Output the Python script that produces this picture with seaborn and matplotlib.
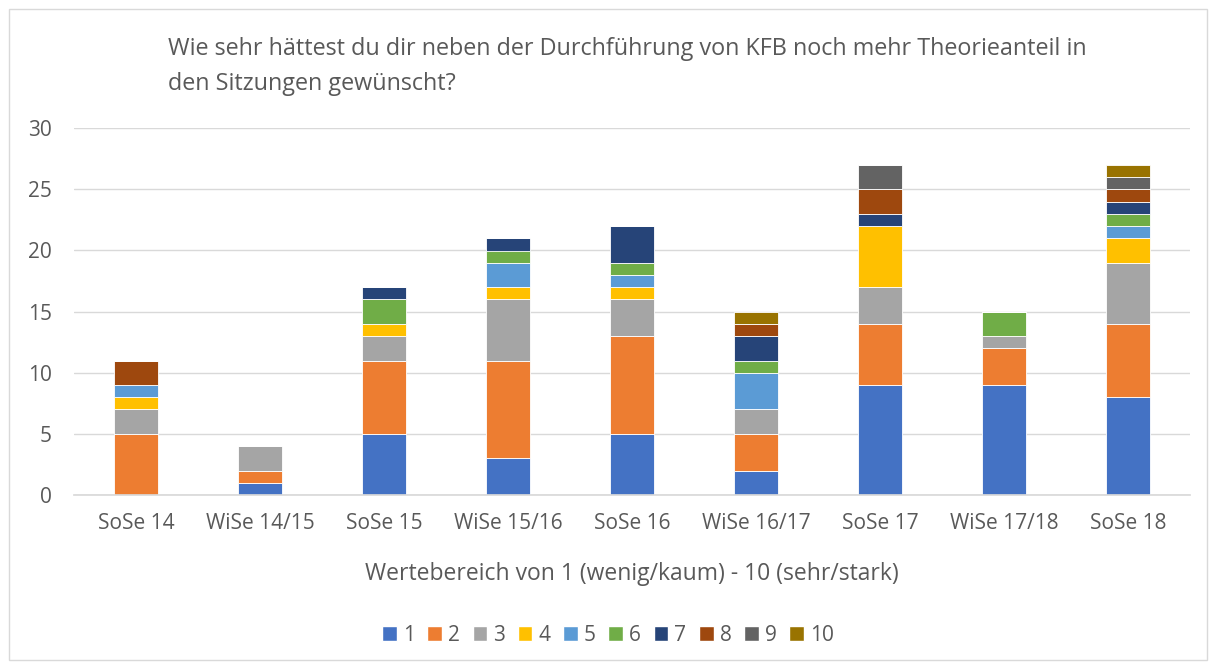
import pandas as pd
import matplotlib.pyplot as plt
import seaborn as sns
from matplotlib.patches import Rectangle, Patch

semesters = ["SoSe 14", "WiSe 14/15", "SoSe 15", "WiSe 15/16", "SoSe 16",
             "WiSe 16/17", "SoSe 17", "WiSe 17/18", "SoSe 18"]
ratings = ["1", "2", "3", "4", "5", "6", "7", "8", "9", "10"]

r1 = [0, 1, 5, 3, 5, 2, 9, 9, 8]
r2 = [5, 1, 6, 8, 8, 3, 5, 3, 6]
r3 = [2, 2, 2, 5, 3, 2, 3, 1, 5]
r4 = [1, 0, 1, 1, 1, 0, 5, 0, 2]
r5 = [1, 0, 0, 2, 1, 3, 0, 0, 1]
r6 = [0, 0, 2, 1, 1, 1, 0, 2, 1]
r7 = [0, 0, 1, 1, 3, 2, 1, 0, 1]
r8 = [2, 0, 0, 0, 0, 1, 2, 0, 1]
r9 = [0, 0, 0, 0, 0, 0, 2, 0, 1]
r10 = [0, 0, 0, 0, 0, 1, 0, 0, 1]
series = [r1, r2, r3, r4, r5, r6, r7, r8, r9, r10]

colors = ["#4472C4", "#ED7D31", "#A5A5A5", "#FFC000", "#5B9BD5",
          "#70AD47", "#264478", "#9E480E", "#636363", "#997300"]

title = ("Wie sehr hättest du dir neben der Durchführung von KFB noch mehr Theorieanteil in\n"
         "den Sitzungen gewünscht?")
xlabel = "Wertebereich von 1 (wenig/kaum) - 10 (sehr/stark)"

sns.set_theme(style="white")
plt.rcParams['font.family'] = ['Open Sans', 'DejaVu Sans']
txt = "#595959"

fig = plt.figure(figsize=(12.16, 6.68), dpi=100)
ax = fig.add_axes([0.0609, 0.259, 0.9178, 0.549])

bottom = [0] * len(semesters)
for lab, vals, col in zip(ratings, series, colors):
    df = pd.DataFrame({"Semester": semesters, "Anzahl": vals})
    sns.barplot(data=df, x="Semester", y="Anzahl", color=col, bottom=bottom,
                width=0.355, saturation=1, edgecolor="white", linewidth=0.6, ax=ax)
    bottom = [b + v for b, v in zip(bottom, vals)]

ax.set_ylim(0, 30)
ax.set_yticks(range(0, 31, 5))
ax.set_xlim(-0.5, len(semesters) - 0.5)
ax.yaxis.grid(True, color="#D9D9D9", linewidth=1)
ax.set_axisbelow(True)
for s in ["top", "right", "left"]:
    ax.spines[s].set_visible(False)
ax.spines["bottom"].set_color("#D9D9D9")
ax.tick_params(axis="both", colors=txt, labelsize=15, length=0)
ax.tick_params(axis="x", pad=13)
ax.tick_params(axis="y", pad=16)
ax.set_ylabel("")
ax.set_xlabel(xlabel, fontsize=16.5, color=txt, labelpad=20)

fig.text(0.138, 0.945, title, ha="left", va="top", fontsize=16.8, color=txt,
         linespacing=1.65)

handles = [Patch(facecolor=c, label=l) for l, c in zip(ratings, colors)]
fig.legend(handles=handles, loc="center", bbox_to_anchor=(0.5, 0.049), ncol=10,
           frameon=False, fontsize=15, handlelength=0.7, handleheight=0.7,
           handletextpad=0.3, columnspacing=0.6, labelcolor=txt)

fig.add_artist(Rectangle((0.0074, 0.012), 0.9852, 0.975, transform=fig.transFigure,
                         fill=False, edgecolor="#D9D9D9", linewidth=1))

fig.savefig("out.png", dpi=100)
